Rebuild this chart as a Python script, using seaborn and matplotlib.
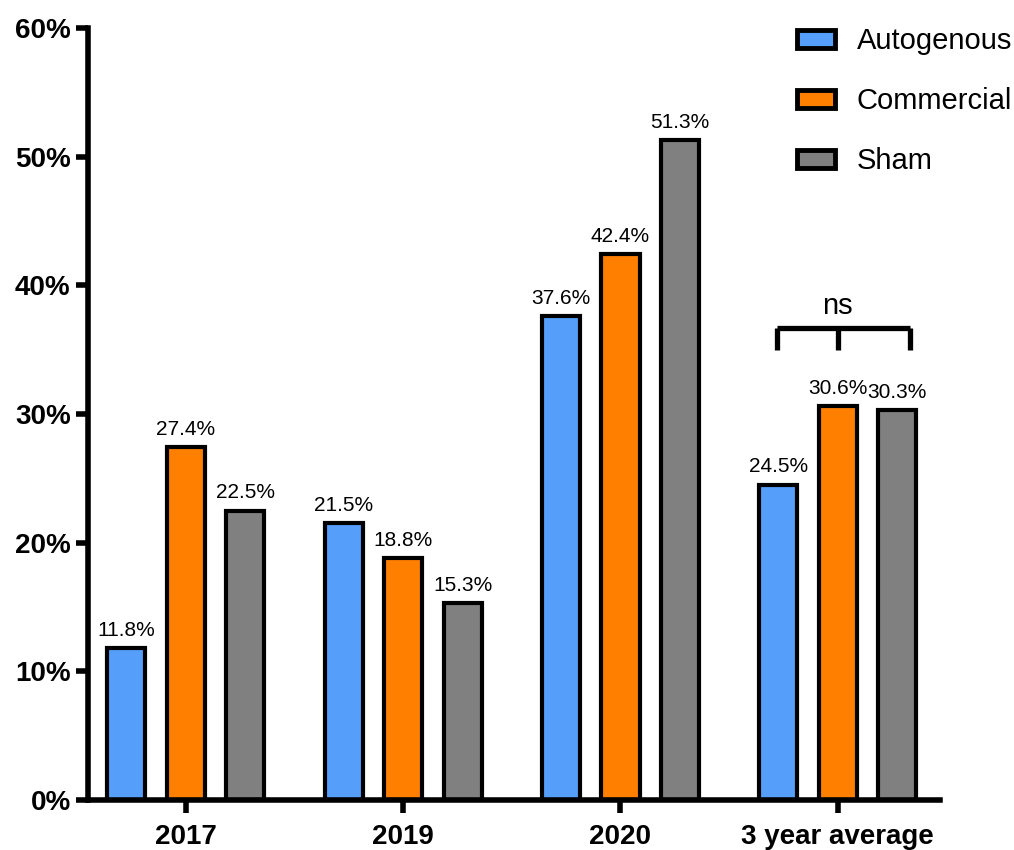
import matplotlib
matplotlib.use("Agg")
import matplotlib.pyplot as plt
import seaborn as sns
import pandas as pd
from matplotlib.patches import Patch
from matplotlib.ticker import FuncFormatter

categories = ["2017", "2019", "2020", "3 year average"]
groups = ["Autogenous", "Commercial", "Sham"]
autogenous = [11.8, 21.5, 37.6, 24.5]
commercial = [27.4, 18.8, 42.4, 30.6]
sham = [22.5, 15.3, 51.3, 30.3]
colors = ["#559FFB", "#FF8000", "#808080"]
y_ticks = [0, 10, 20, 30, 40, 50, 60]

rows = []
for g, vals in zip(groups, [autogenous, commercial, sham]):
    for c, v in zip(categories, vals):
        rows.append({"Year": c, "Group": g, "Value": v})
df = pd.DataFrame(rows)

sns.set_style("ticks")
plt.rcParams["font.family"] = ["Liberation Sans", "DejaVu Sans"]
plt.rcParams.update({"text.color": "black", "axes.edgecolor": "black",
                     "xtick.color": "black", "ytick.color": "black",
                     "axes.labelcolor": "black"})

fig = plt.figure(figsize=(10.14, 8.5), dpi=100)
ax = fig.add_axes([0.0868, 0.0588, 0.8402, 0.9082])

sns.barplot(data=df, x="Year", y="Value", hue="Group", order=categories,
            hue_order=groups, palette=colors, width=0.82, gap=0.36,
            edgecolor="black", linewidth=3, saturation=1, ax=ax,
            legend=False, errorbar=None)

for cont in ax.containers:
    ax.bar_label(cont, fmt="%.1f%%", padding=6, fontsize=15, color="black")

ax.set_ylim(0, 60)
ax.set_xlim(-0.45, 3.47)
ax.set_yticks(y_ticks)
ax.yaxis.set_major_formatter(FuncFormatter(lambda v, p: f"{v:.0f}%"))
ax.set_xlabel("")
ax.set_ylabel("")
sns.despine(ax=ax)
for s in ["left", "bottom"]:
    ax.spines[s].set_linewidth(4)
    ax.spines[s].set_color("black")
ax.tick_params(axis="both", width=4, length=9, direction="out", colors="black")
ax.tick_params(axis="x", pad=8)
for lab in ax.get_yticklabels():
    lab.set_fontsize(20)
    lab.set_fontweight("bold")
for lab in ax.get_xticklabels():
    lab.set_fontsize(20)
    lab.set_fontweight("bold")

# significance bracket
xl, xm, xr = 3 - 0.28, 3.0, 3 + 0.33
ytop, ybot = 36.7, 35.0
ax.plot([xl, xr], [ytop, ytop], color="black", lw=3.8, solid_capstyle="butt", clip_on=False)
for xx in (xl, xm, xr):
    ax.plot([xx, xx], [ybot, ytop], color="black", lw=3.8, solid_capstyle="butt", clip_on=False)
ax.text(xm, ytop + 0.6, "ns", ha="center", va="bottom", fontsize=21)

handles = [Patch(facecolor=c, edgecolor="black", linewidth=3.5) for c in colors]
fig.legend(handles, groups, loc="upper left", bbox_to_anchor=(0.786, 0.968),
           frameon=False, fontsize=21, handlelength=1.3, handleheight=0.55,
           handletextpad=0.75, labelspacing=1.1, borderpad=0, borderaxespad=0)

fig.savefig("out.png", dpi=100)
